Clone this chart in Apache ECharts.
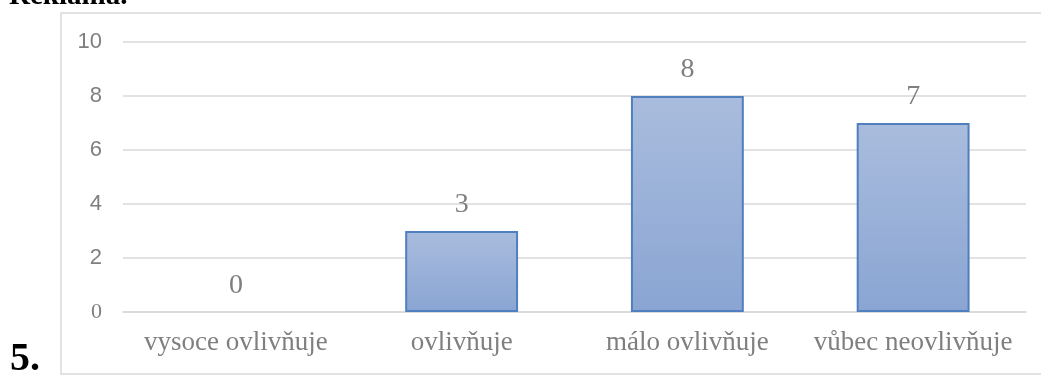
<!DOCTYPE html>
<html>
<head>
<meta charset="utf-8">
<script src="https://cdn.jsdelivr.net/npm/echarts@6/dist/echarts.min.js"></script>
<style>
  html, body { margin: 0; padding: 0; background: #fff; }
  #chart { width: 1041px; height: 376px; }
</style>
</head>
<body>
<div id="chart"></div>
<script>
// Survey answers: how much advertising influences the respondents
const categories = ['vysoce ovlivňuje', 'ovlivňuje', 'málo ovlivňuje', 'vůbec neovlivňuje'];
const counts = [0, 3, 8, 7];
const yTicks = [0, 2, 4, 6, 8, 10];

const serif = '"Liberation Serif", "Times New Roman", serif';
const sans = '"Liberation Sans", Arial, sans-serif';
const grey = '#7f7f7f';

const chart = echarts.init(document.getElementById('chart'));

chart.setOption({
  animation: false,
  backgroundColor: '#fff',
  grid: { left: 123, right: 15, top: 42, bottom: 64 },
  xAxis: {
    type: 'category',
    data: categories,
    axisLine: { show: true, lineStyle: { color: '#d9d9d9', width: 1.5 } },
    axisTick: { show: false },
    axisLabel: {
      interval: 0,
      color: grey,
      fontFamily: serif,
      fontSize: 27,
      margin: 17
    }
  },
  yAxis: {
    type: 'value',
    min: yTicks[0],
    max: yTicks[yTicks.length - 1],
    interval: yTicks[1] - yTicks[0],
    axisLine: { show: false },
    axisTick: { show: false },
    splitLine: { lineStyle: { color: '#d9d9d9', width: 1.5 } },
    axisLabel: {
      margin: 21,
      formatter: v => (v === 0 ? '{s|' + v + '}' : '{n|' + v + '}'),
      rich: {
        n: { color: grey, fontFamily: sans, fontSize: 22 },
        s: { color: grey, fontFamily: serif, fontSize: 22 }
      }
    }
  },
  series: [{
    type: 'bar',
    barWidth: '50%',
    // an empty bar keeps its label but draws no outline
    data: counts.map(v => (v === 0 ? { value: v, itemStyle: { borderWidth: 0 } } : v)),
    itemStyle: {
      color: {
        type: 'linear', x: 0, y: 0, x2: 0, y2: 1,
        colorStops: [
          { offset: 0, color: '#a9bcdd' },
          { offset: 1, color: '#8aa5d3' }
        ]
      },
      borderColor: '#4f7fbe',
      borderWidth: 2
    },
    label: {
      show: true,
      position: 'top',
      distance: 12,
      color: grey,
      fontFamily: serif,
      fontSize: 28
    }
  }],
  graphic: [
    {
      type: 'rect',
      silent: true,
      shape: { x: 61, y: 13, width: 990, height: 361 },
      style: { fill: 'none', stroke: '#d9d9d9', lineWidth: 1.5 }
    },
    {
      type: 'text',
      silent: true,
      style: {
        x: 9, y: -3,
        text: 'Reklama.',
        font: 'bold 29px ' + serif,
        fill: '#000',
        verticalAlign: 'middle'
      }
    },
    {
      type: 'text',
      silent: true,
      style: {
        x: 10, y: 360,
        text: '5.',
        font: 'bold 40px ' + serif,
        fill: '#000',
        verticalAlign: 'middle'
      }
    }
  ]
});
</script>
</body>
</html>
